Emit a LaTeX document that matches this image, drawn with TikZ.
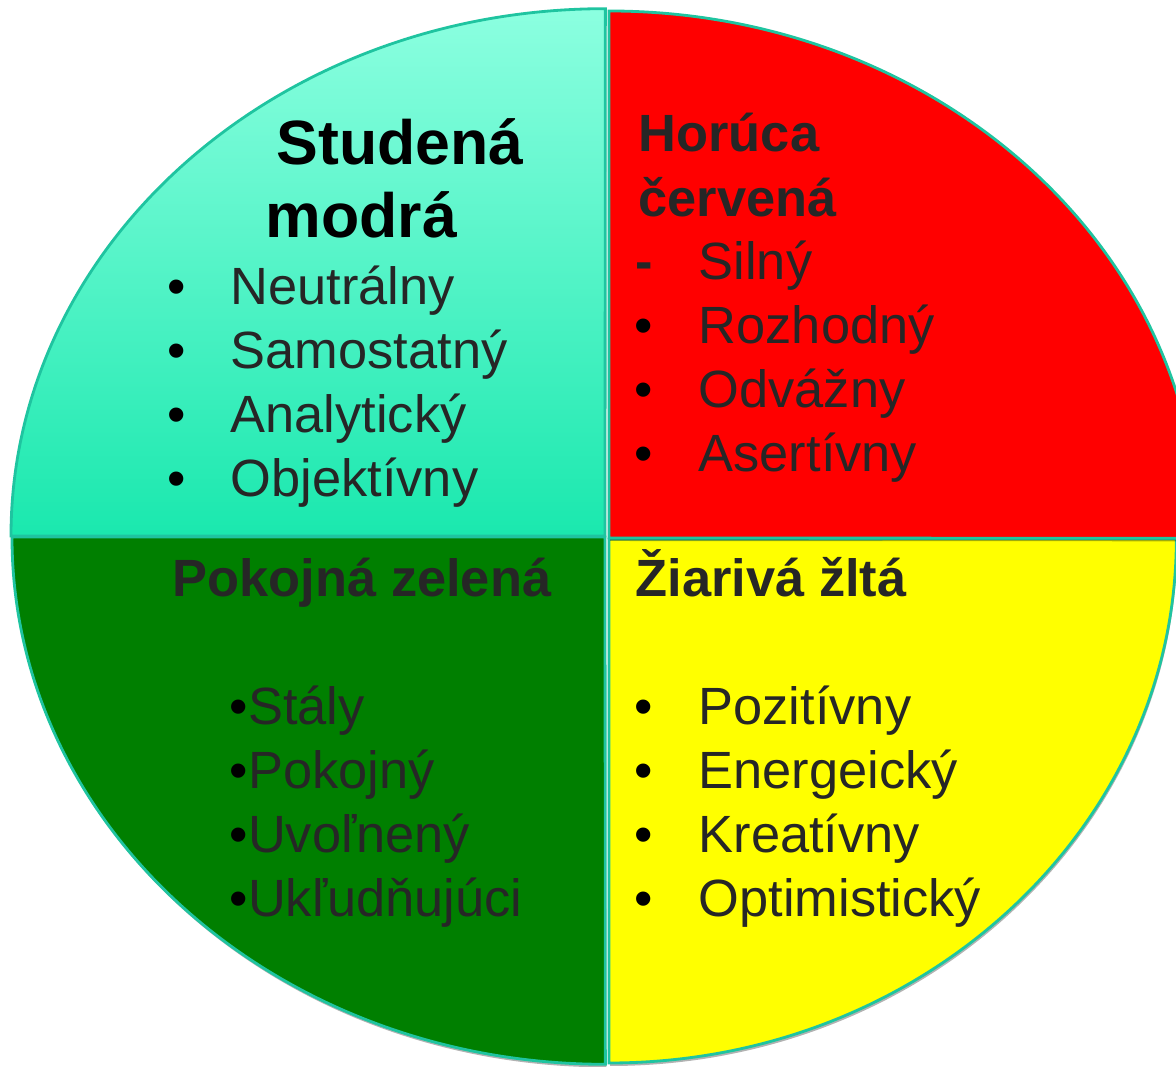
\documentclass[tikz,border=0pt]{standalone}
\usepackage{fontspec}
\setmainfont{Liberation Sans}
\usetikzlibrary{positioning}

\definecolor{rimteal}{HTML}{1FC4A0}
\definecolor{aquatop}{HTML}{8CFFE0}
\definecolor{aquabot}{HTML}{1AE8AE}
\definecolor{hotred}{HTML}{FF0000}
\definecolor{calmgreen}{HTML}{007F00}
\definecolor{sunyellow}{HTML}{FFFF00}
\definecolor{inktext}{HTML}{262626}

% quadrant outlines (pixel units, y upwards)
\newcommand{\quadNW}{(605,531) -- (11,531) arc[start angle=180, end angle=90, x radius=5.94cm, y radius=5.27cm] -- cycle}
\newcommand{\quadNE}{(609,529) -- (609,1056) arc[start angle=90, end angle=0, x radius=5.90cm, y radius=5.27cm] -- cycle}
\newcommand{\quadSW}{(605,530) -- (12,530) arc[start angle=180, end angle=270, x radius=5.93cm, y radius=5.27cm] -- cycle}
\newcommand{\quadSE}{(609,528) -- (609,4) arc[start angle=270, end angle=360, x radius=5.67cm, y radius=5.24cm] -- cycle}

\tikzset{
  quarter/.style={draw=rimteal, line width=0.8pt},
  shadowfill/.style={fill=black, fill opacity=0.3, draw=none},
  heading/.style={anchor=base west, inner sep=0pt, text=inktext, font=\bfseries\fontsize{14.9}{18}\selectfont},
  bigheading/.style={anchor=base west, inner sep=0pt, text=black, font=\bfseries\fontsize{17.8}{21}\selectfont},
  entry/.style={anchor=base west, inner sep=0pt, text=inktext, font=\fontsize{14.9}{18}\selectfont},
  dot/.style={anchor=base west, inner sep=0pt, text=black, font=\fontsize{14.9}{18}\selectfont},
}

\begin{document}
\begin{tikzpicture}[x=0.01cm, y=0.01cm]
    \useasboundingbox (0,0) rectangle (1176,1067);
    \clip (0,0) rectangle (1176,1067);

    % Studena modra
    \fill[shadowfill, shift={(1,-3)}] \quadNW;
    \draw[quarter, top color=aquatop, bottom color=aquabot] \quadNW;
    % Pokojna zelena
    \fill[shadowfill, shift={(1,-3)}] \quadSW;
    \draw[quarter, fill=calmgreen] \quadSW;
    % Ziariva zlta
    \fill[shadowfill, shift={(1,-3)}] \quadSE;
    \draw[quarter, fill=sunyellow] \quadSE;
    % Horuca cervena
    \fill[shadowfill, shift={(1,-3)}] \quadNE;
    \draw[quarter, fill=hotred] \quadNE;

    % titles
    \node[bigheading] (blue-t1) at (276,902) {Studená};
    \node[bigheading] (blue-t2) at (265,829) {modrá};
    \node[heading] (red-t1) at (638,915) {Horúca};
    \node[heading] (red-t2) at (638,850) {červená};
    \node[heading] (green-t) at (172,470) {Pokojná zelená};
    \node[heading] (yellow-t) at (635,470) {Žiarivá žltá};

    % lists
    \foreach \word [count=\i] in {Neutrálny, Samostatný, Analytický, Objektívny} {
        \node[dot] (blue-d\i) at (167,826-64*\i) {•};
        \node[entry] (blue-\i) at (230,826-64*\i) {\word};
    }
    \node[dot, text=inktext, font=\bfseries\fontsize{14.9}{18}\selectfont] (red-d1) at (635,787) {-};
    \node[entry] (red-1) at (698,787) {Silný};
    \foreach \word [count=\i from 2] in {Rozhodný, Odvážny, Asertívny} {
        \node[dot] (red-d\i) at (634,851-64*\i) {•};
        \node[entry] (red-\i) at (698,851-64*\i) {\word};
    }
    \foreach \word [count=\i] in {Stály, Pokojný, Uvoľnený, Ukľudňujúci} {
        \node[entry] (green-\i) at (229,406-64*\i) {\textcolor{black}{•}\word};
    }
    \foreach \word [count=\i] in {Pozitívny, Energeický, Kreatívny, Optimistický} {
        \node[dot] (yellow-d\i) at (634,406-64*\i) {•};
        \node[entry] (yellow-\i) at (698,406-64*\i) {\word};
    }
\end{tikzpicture}
\end{document}
